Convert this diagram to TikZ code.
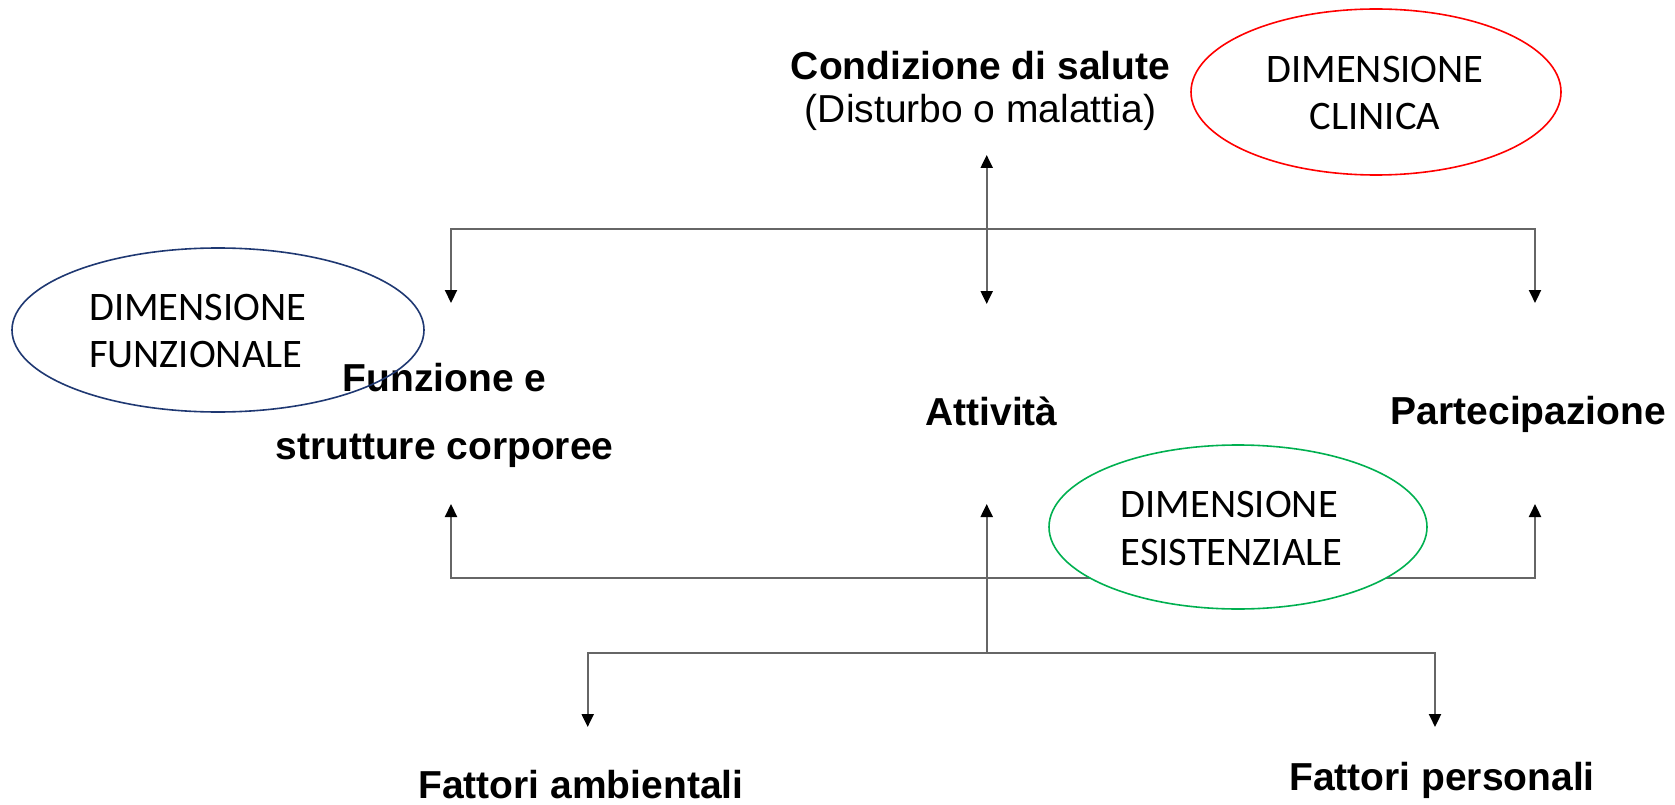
\documentclass[tikz,border=0pt]{standalone}
\usepackage{fontspec}
\setmainfont{Liberation Sans}
\newfontfamily\calib{Carlito}
\usetikzlibrary{arrows.meta,shapes.geometric}
\definecolor{dimred}{HTML}{FF0000}
\definecolor{dimblue}{HTML}{1F3872}
\definecolor{dimgreen}{HTML}{00B050}
\definecolor{connc}{HTML}{666666}
\newcommand{\lftlines}[3]{\vtop{\baselineskip=#1\relax\lineskiplimit=-100pt\halign{##\hfil\cr #2\cr #3\cr}}}
\newcommand{\ctrlines}[3]{\vtop{\baselineskip=#1\relax\lineskiplimit=-100pt\halign{\hfil##\hfil\cr #2\cr #3\cr}}}
\begin{document}
\begin{tikzpicture}[x=1pt,y=-1pt,
  lbl/.style={font=\bfseries\fontsize{39}{43}\selectfont, inner sep=0pt, anchor=base},
  dimtext/.style={font=\calib\fontsize{40.5}{47}\selectfont, inner sep=0pt, anchor=base west},
  dimell/.style={ellipse, draw, line width=1.6pt, inner sep=0pt},
  conn/.style={draw=connc, line width=2.2pt},
  >={Triangle[width=12pt,length=13pt,color=black,fill=black]}]
\useasboundingbox (0,0) rectangle (1675,805);

% main labels
\node[lbl] (cond) at (980.5,80) {\ctrlines{43pt}{Condizione di salute}{\mdseries (Disturbo o malattia)}};
\node[lbl] (funz) at (444.5,391) {\ctrlines{68pt}{Funzione e}{strutture corporee}};
\node[lbl] (att) at (991.5,425) {Attività};
\node[lbl] (part) at (1528.5,424) {Partecipazione};
\node[lbl] (amb) at (581,798) {Fattori ambientali};
\node[lbl] (pers) at (1442,790) {Fattori personali};

% connector points
\coordinate (tipTop) at (986.7,155);
\coordinate (tipMid) at (986.7,304);
\coordinate (barTL) at (451,229);
\coordinate (barTR) at (1535,229);
\coordinate (tipL) at (451,303);
\coordinate (tipR) at (1535,303);
\coordinate (barBL) at (451,578);
\coordinate (barBR) at (1535,578);
\coordinate (upL) at (451,504);
\coordinate (upM) at (986.7,504);
\coordinate (upR) at (1535,504);
\coordinate (junc) at (986.7,652.7);
\coordinate (lowL) at (587.7,652.7);
\coordinate (lowR) at (1435,652.7);
\coordinate (dnL) at (587.7,727);
\coordinate (dnR) at (1435,727);

\draw[conn,<->] (tipTop) -- (tipMid);
\draw[conn,<->] (tipL) -- (barTL) -- (barTR) -- (tipR);
\draw[conn,<->] (upL) -- (barBL) -- (barBR) -- (upR);
\draw[conn,->] (junc) -- (upM);
\draw[conn,<->] (dnL) -- (lowL) -- (lowR) -- (dnR);

% dimension ellipses
\node[dimell, draw=dimred, minimum width=370pt, minimum height=166pt] (eclin) at (1376,92) {};
\node[dimell, draw=dimblue, minimum width=412pt, minimum height=164pt] (efunz) at (218,330) {};
\node[dimell, draw=dimgreen, fill=white, minimum width=378pt, minimum height=164pt] (eesis) at (1238,527) {};

\node[dimtext, anchor=base] (tclin) at (1375,83) {\ctrlines{47pt}{DIMENSIONE}{CLINICA}};
\node[dimtext] (tfunz) at (89,320) {\lftlines{47pt}{DIMENSIONE}{FUNZIONALE}};
\node[dimtext] (tesis) at (1120.5,517) {\lftlines{48pt}{DIMENSIONE}{ESISTENZIALE}};
\end{tikzpicture}
\end{document}
